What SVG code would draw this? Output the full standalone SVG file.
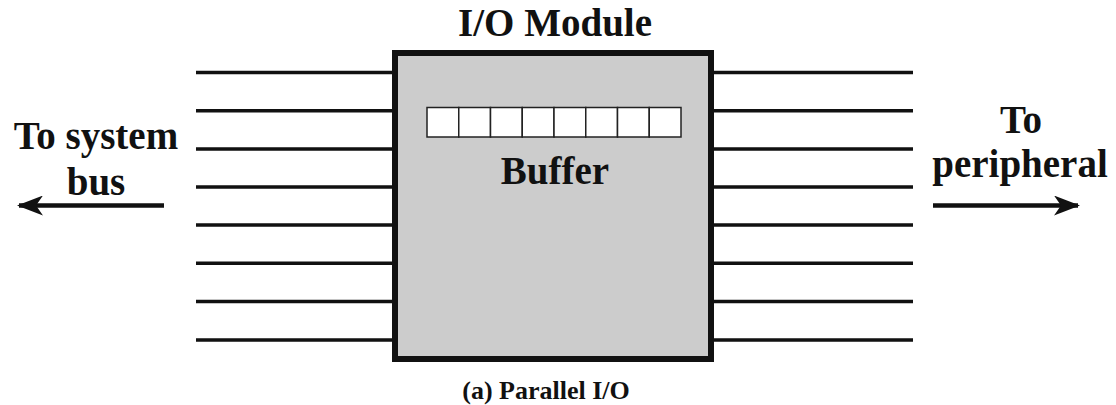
<svg xmlns="http://www.w3.org/2000/svg" width="1116" height="405" viewBox="0 0 1116 405">
<style>
.t{font-family:"Liberation Serif","Times New Roman",serif;font-weight:bold;fill:#111;text-anchor:middle}
.ln{stroke:#111;stroke-width:3.5;fill:none}
.ar{stroke:#111;stroke-width:4.5;fill:none}
.cell{fill:#fff;stroke:#222;stroke-width:1.5}
</style>
<defs>
<marker id="ah" viewBox="0 0 26 20" refX="24" refY="10" markerWidth="26" markerHeight="20" markerUnits="userSpaceOnUse" orient="auto">
<path d="M0,0 L26,10 L0,20 L7,10 Z" fill="#111"/>
</marker>
</defs>
<rect width="1116" height="405" fill="#fff"/>
<g id="connectors">
<path class="ln" d="M196,72.5H395M196,110.7H395M196,149H395M196,187H395M196,225H395M196,263.3H395M196,301.6H395M196,340H395"/>
<path class="ln" d="M711,72.5H913M711,110.7H913M711,149H913M711,187H913M711,225H913M711,263.3H913M711,301.6H913M711,340H913"/>
<line class="ar" x1="164" y1="205.5" x2="19" y2="205.5" marker-end="url(#ah)"/>
<line class="ar" x1="933" y1="205.5" x2="1078" y2="205.5" marker-end="url(#ah)"/>
</g>
<g id="io-module">
<rect x="395" y="53" width="316" height="306" fill="#cccccc" stroke="#111" stroke-width="6"/>
<text class="t" x="555" y="36" font-size="39">I/O Module</text>
</g>
<g id="buffer">
<rect class="cell" x="427" y="107.5" width="31.75" height="29.5"/>
<rect class="cell" x="458.75" y="107.5" width="31.75" height="29.5"/>
<rect class="cell" x="490.5" y="107.5" width="31.75" height="29.5"/>
<rect class="cell" x="522.25" y="107.5" width="31.75" height="29.5"/>
<rect class="cell" x="554" y="107.5" width="31.75" height="29.5"/>
<rect class="cell" x="585.75" y="107.5" width="31.75" height="29.5"/>
<rect class="cell" x="617.5" y="107.5" width="31.75" height="29.5"/>
<rect class="cell" x="649.25" y="107.5" width="31.75" height="29.5"/>
<text class="t" x="555" y="184" font-size="39">Buffer</text>
</g>
<g id="system-bus">
<text class="t" x="96" y="149" font-size="39">To system</text>
<text class="t" x="96" y="195" font-size="39">bus</text>
</g>
<g id="peripheral">
<text class="t" x="1021" y="133" font-size="39">To</text>
<text class="t" x="1020" y="177" font-size="39">peripheral</text>
</g>
<g id="caption">
<text class="t" x="546" y="399" font-size="26">(a) Parallel I/O</text>
</g>
</svg>
